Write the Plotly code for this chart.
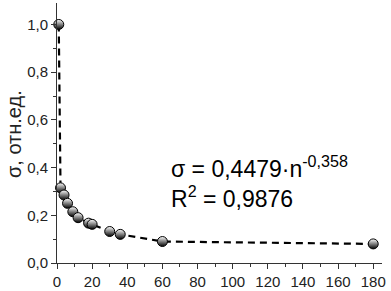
import plotly.graph_objects as go

n_values = [1, 2, 4, 6, 9, 12, 18, 20, 30, 36, 60, 180]
sigma_values = [1.0, 0.315, 0.285, 0.25, 0.215, 0.19, 0.167, 0.162, 0.132, 0.12, 0.09, 0.08]

x_ticks = [0, 20, 40, 60, 80, 100, 120, 140, 160, 180]
y_ticks = [0.0, 0.2, 0.4, 0.6, 0.8, 1.0]

y_title = "σ, отн.ед."
eq_line1 = "σ = 0,4479·n<sup>-0,358</sup>"
eq_line2 = "R<sup>2</sup> = 0,9876"

font_family = "Liberation Sans, Arial, sans-serif"

fig = go.Figure()
fig.add_trace(go.Scatter(
    x=n_values, y=sigma_values,
    mode="lines+markers",
    line=dict(color="black", width=2.2, dash="7px,5px"),
    marker=dict(symbol="circle", size=10, color="white",
                line=dict(color="black", width=1),
                gradient=dict(type="vertical", color="black")),
    showlegend=False,
    cliponaxis=False,
))

fig.add_annotation(xref="paper", yref="paper", x=0.345, y=0.37, xanchor="left", yanchor="middle",
                   text=eq_line1, showarrow=False, font=dict(size=23, color="black", family=font_family))
fig.add_annotation(xref="paper", yref="paper", x=0.345, y=0.255, xanchor="left", yanchor="middle",
                   text=eq_line2, showarrow=False, font=dict(size=23, color="black", family=font_family))
fig.add_annotation(xref="paper", yref="paper", x=-0.13, y=0.495, xanchor="center", yanchor="middle",
                   textangle=-90, text=y_title, showarrow=False,
                   font=dict(size=20, color="#222", family=font_family))

fig.update_layout(
    width=391, height=291,
    margin=dict(l=57, r=9, t=3, b=28),
    paper_bgcolor="white", plot_bgcolor="white",
    separators=", ",
    font=dict(family=font_family, size=15, color="#222"),
    xaxis=dict(range=[0, 185], tickvals=x_ticks, showline=True, linecolor="#333", linewidth=1,
               ticks="outside", ticklen=5, tickcolor="#333", showgrid=False, zeroline=False,
               automargin=False,
               minor=dict(dtick=10, ticks="outside", ticklen=3, tickcolor="#333", showgrid=False),
               tickfont=dict(size=15)),
    yaxis=dict(range=[0, 1.09], tickvals=y_ticks, tickformat=".1f", showline=True, linecolor="#333",
               linewidth=1, ticks="outside", ticklen=5, tickcolor="#333", showgrid=False, zeroline=False,
               automargin=False,
               minor=dict(dtick=0.1, ticks="outside", ticklen=3, tickcolor="#333", showgrid=False),
               tickfont=dict(size=15)),
)

fig.write_html("out.html", config={"displayModeBar": False},
               post_script="document.body.style.margin='0';document.body.style.overflow='hidden';")
